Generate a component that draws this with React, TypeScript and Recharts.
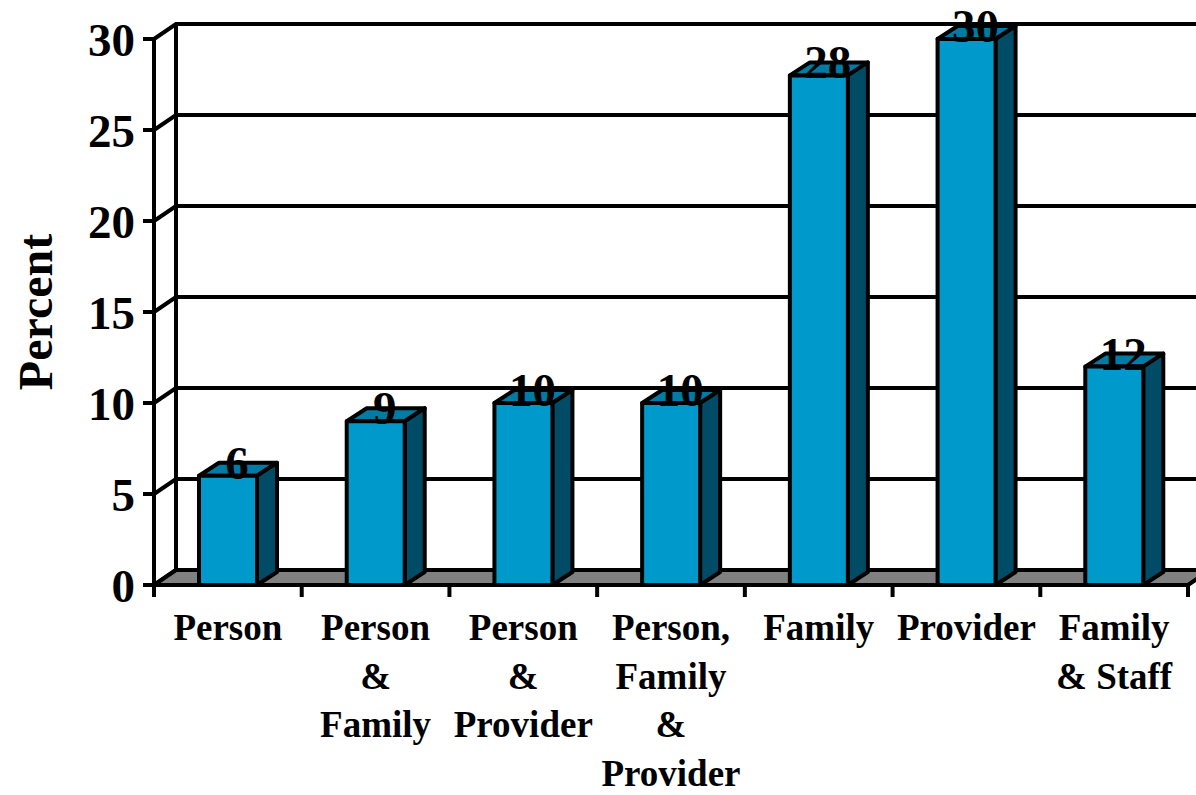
import React from 'react';
import { BarChart, Bar, XAxis, YAxis, CartesianGrid, ReferenceArea, LabelList } from 'recharts';

const categories = ['Person', 'Person & Family', 'Person & Provider', 'Person, Family & Provider', 'Family', 'Provider', 'Family & Staff'];
const tickLines = [
  ['Person'],
  ['Person', '&', 'Family'],
  ['Person', '&', 'Provider'],
  ['Person,', 'Family', '&', 'Provider'],
  ['Family'],
  ['Provider'],
  ['Family', '& Staff'],
];
const percents = [6, 9, 10, 10, 28, 30, 12];
const yTicks = [0, 5, 10, 15, 20, 25, 30];

const data = categories.map((c, i) => ({ name: c, value: percents[i], lines: tickLines[i] }));

const FONT = "'Liberation Serif', 'Times New Roman', serif";
const WALL_DX = 22;
const WALL_DY = 15;
const BAR_DX = 20;
const BAR_DY = 13;
const FRONT = '#0099CC';
const TOP = '#007BA3';
const SIDE = '#004C66';
const SW = 4;

const GridLine = (props: any) => {
  const { x1, y1, x2 } = props;
  return (
    <polyline
      points={`${x1},${y1} ${x1 + WALL_DX},${y1 - WALL_DY} ${x2 + WALL_DX},${y1 - WALL_DY}`}
      fill="none"
      stroke="#000"
      strokeWidth={SW}
    />
  );
};

const FloorShape = (props: any) => {
  const { x, y, width, height } = props;
  const b = y + height;
  return (
    <g>
      <polygon
        points={`${x},${b} ${x + WALL_DX},${b - WALL_DY} ${x + width + WALL_DX},${b - WALL_DY} ${x + width},${b}`}
        fill="#808080"
        stroke="#000"
        strokeWidth={SW}
        strokeLinejoin="round"
      />
      <line x1={x + WALL_DX} y1={y - WALL_DY} x2={x + WALL_DX} y2={b - WALL_DY} stroke="#000" strokeWidth={SW} />
    </g>
  );
};

const Bar3D = (props: any) => {
  const { x, y, width, height } = props;
  if (width == null || height == null) return null;
  const r = x + width;
  const b = y + height;
  return (
    <g stroke="#000" strokeWidth={SW} strokeLinejoin="round">
      <polygon points={`${x},${y} ${x + BAR_DX},${y - BAR_DY} ${r + BAR_DX},${y - BAR_DY} ${r},${y}`} fill={TOP} />
      <polygon points={`${r},${y} ${r + BAR_DX},${y - BAR_DY} ${r + BAR_DX},${b - BAR_DY} ${r},${b}`} fill={SIDE} />
      <rect x={x} y={y} width={width} height={height} fill={FRONT} />
    </g>
  );
};

const ValueLabel = (props: any) => {
  const { x, y, width, value } = props;
  return (
    <text
      x={x + width / 2 + 9}
      y={y + 3}
      textAnchor="middle"
      fontFamily={FONT}
      fontWeight="bold"
      fontSize={47}
      fill="#000"
    >
      {value}
    </text>
  );
};

const CategoryTick = (props: any) => {
  const { x, y, payload, index } = props;
  const half = payload && payload.offset ? payload.offset : 0;
  const lines: string[] = tickLines[index] || [payload.value];
  return (
    <g>
      <line x1={x - half} y1={y} x2={x - half} y2={y + 12} stroke="#000" strokeWidth={SW} />
      {index === categories.length - 1 && (
        <line x1={x + half} y1={y} x2={x + half} y2={y + 12} stroke="#000" strokeWidth={SW} />
      )}
      <text textAnchor="middle" fontFamily={FONT} fontWeight="bold" fontSize={37} fill="#000">
        {lines.map((l, i) => (
          <tspan key={i} x={x} y={y + 55 + i * 48.5}>
            {l}
          </tspan>
        ))}
      </text>
    </g>
  );
};

const PercentLabel = (props: any) => {
  const vb = props.viewBox || { x: 0, y: 39, width: 154, height: 546 };
  const cx = vb.x + 52;
  const cy = vb.y + vb.height / 2;
  return (
    <text
      x={cx}
      y={cy}
      transform={`rotate(-90, ${cx}, ${cy})`}
      textAnchor="middle"
      fontFamily={FONT}
      fontWeight="bold"
      fontSize={48}
      fill="#000"
    >
      Percent
    </text>
  );
};

export default function App() {
  return (
    <div style={{ position: 'absolute', left: 0, top: 0, width: 1196, height: 795, background: '#fff' }}>
      <BarChart
        width={1196}
        height={795}
        data={data}
        margin={{ top: 39, right: 8, left: 0, bottom: 0 }}
        barSize={58}
      >
        <CartesianGrid horizontal={GridLine} vertical={false} />
        <ReferenceArea y1={0} y2={30} shape={FloorShape} ifOverflow="visible" />
        <XAxis
          dataKey="name"
          height={210}
          tickLine={false}
          tickSize={0}
          tickMargin={0}
          interval={0}
          axisLine={{ stroke: '#000', strokeWidth: SW }}
          tick={CategoryTick}
        />
        <YAxis
          width={154}
          domain={[0, 30]}
          ticks={yTicks}
          interval={0}
          tickSize={11}
          tickMargin={8}
          axisLine={{ stroke: '#000', strokeWidth: SW }}
          tickLine={{ stroke: '#000', strokeWidth: SW }}
          tick={{ fontFamily: FONT, fontWeight: 'bold', fontSize: 47, fill: '#000' }}
          label={{ content: PercentLabel }}
        />
        <Bar dataKey="value" shape={Bar3D} isAnimationActive={false}>
          <LabelList dataKey="value" content={ValueLabel} />
        </Bar>
      </BarChart>
    </div>
  );
}
